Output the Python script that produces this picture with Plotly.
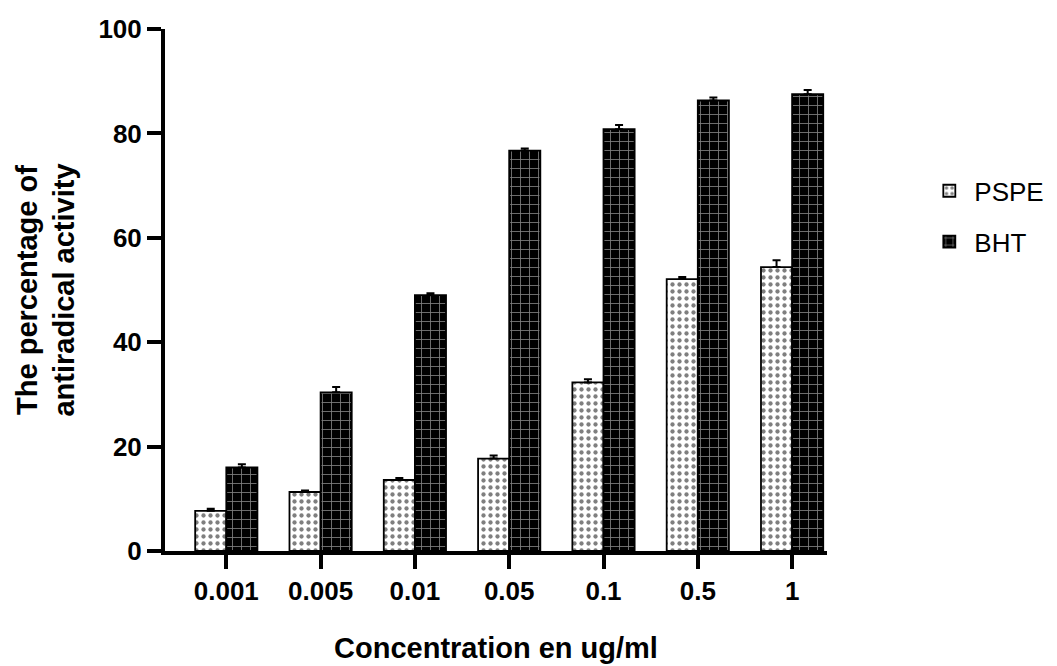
import plotly.graph_objects as go

categories = ["0.001", "0.005", "0.01", "0.05", "0.1", "0.5", "1"]
pspe_values = [7.7, 11.3, 13.6, 17.7, 32.3, 52.1, 54.4]
pspe_err = [0.4, 0.3, 0.4, 0.6, 0.6, 0.4, 1.3]
bht_values = [16.0, 30.4, 49.0, 76.7, 80.8, 86.3, 87.5]
bht_err = [0.6, 1.0, 0.4, 0.4, 0.8, 0.6, 0.8]
y_ticks = [0, 20, 40, 60, 80, 100]

FONT = "Liberation Sans, Arial, sans-serif"

fig = go.Figure()
fig.add_trace(go.Bar(
    name="PSPE", x=categories, y=pspe_values, legendgroup="a",
    marker=dict(color="white", line=dict(color="black", width=1.8),
                pattern=dict(shape=".", fgcolor="black", bgcolor="white",
                             size=7, solidity=0.3)),
    error_y=dict(type="data", array=pspe_err, arrayminus=[0]*len(pspe_err),
                 symmetric=False, color="black", thickness=2, width=4),
))
fig.add_trace(go.Bar(
    name="BHT", x=categories, y=bht_values, legendgroup="b",
    marker=dict(color="black", line=dict(color="black", width=1.8),
                pattern=dict(shape="+", fgcolor="white", bgcolor="black",
                             size=9, solidity=0.18)),
    error_y=dict(type="data", array=bht_err, arrayminus=[0]*len(bht_err),
                 symmetric=False, color="black", thickness=2, width=4),
))

fig.update_layout(
    width=1057, height=666,
    margin=dict(l=157, r=238, t=21, b=123, autoexpand=False),
    paper_bgcolor="white", plot_bgcolor="white",
    barmode="group", bargap=0.34, bargroupgap=0,
    font=dict(family=FONT, color="black"),
    showlegend=True,
    legend=dict(x=1.147, y=0.735, xanchor="left", yanchor="top",
                font=dict(size=26, family=FONT, color="black"),
                tracegroupgap=14, itemwidth=40),
    xaxis=dict(
        type="category", range=[-0.65, 6.37], automargin=False,
        showline=True, linecolor="black", linewidth=4,
        ticks="outside", ticklen=14, tickwidth=4, tickcolor="black",
        tickfont=dict(size=26, family=FONT, color="black", weight="bold"),
        showgrid=False, zeroline=False,
        title=dict(text="<b>Concentration en ug/ml</b>", font=dict(size=29, family=FONT),
                   standoff=33),
    ),
    yaxis=dict(
        range=[0, 100], tickvals=y_ticks, automargin=False,
        showline=True, linecolor="black", linewidth=4,
        ticks="outside", ticklen=14, tickwidth=4, tickcolor="black",
        tickfont=dict(size=26, family=FONT, color="black", weight="bold"),
        showgrid=False, zeroline=False,
        title=dict(text="<b>The percentage of<br>antiradical activity</b>",
                   font=dict(size=29, family=FONT), standoff=16),
    ),
)

fig.write_html("out.html")
